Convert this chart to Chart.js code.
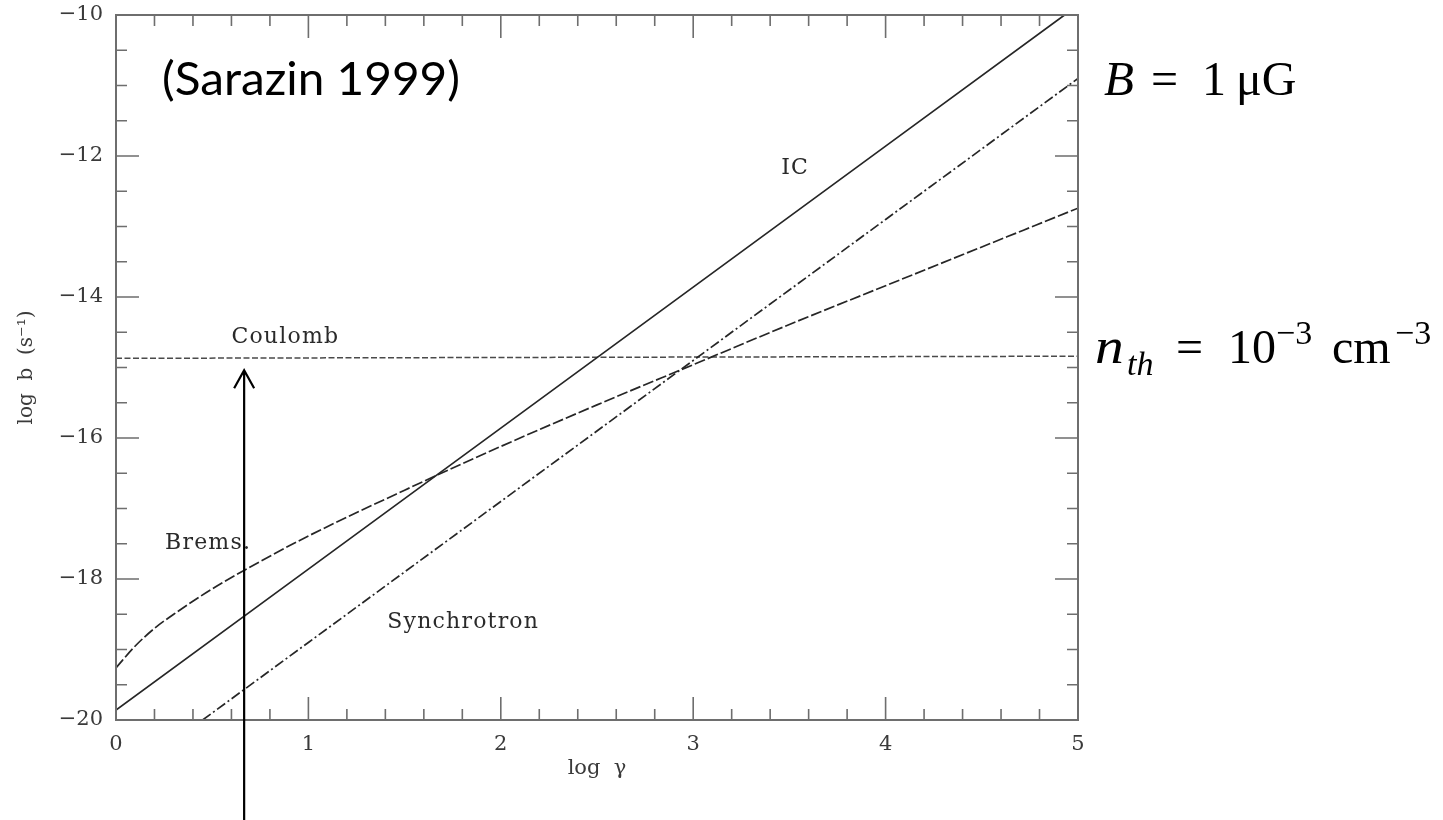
<!DOCTYPE html>
<html>
<head>
<meta charset="utf-8">
<script src="https://cdn.jsdelivr.net/npm/chart.js@4.4.0/dist/chart.umd.min.js"></script>
<style>
    html, body { margin: 0; padding: 0; background: #fff; }
    #wrap { width: 1443px; height: 820px; position: relative; }
</style>
</head>
<body>
<div id="wrap"><canvas id="lossChart"></canvas></div>
<script>
const icX = [0, 1, 2, 3, 4, 4.93];
const icY = [-19.86, -17.86, -15.86, -13.86, -11.86, -10.0];

const syncX = [0.45, 1, 2, 3, 4, 5];
const syncY = [-20.0, -18.9, -16.9, -14.9, -12.9, -10.9];

const bremsX = [0, 0.1, 0.2, 0.3, 0.5, 0.75, 1, 1.5, 2, 2.5, 3, 3.5, 4, 4.5, 5];
const bremsY = [-19.26, -18.95, -18.70, -18.50, -18.14, -17.75, -17.39, -16.74, -16.12, -15.53, -14.96, -14.39, -13.84, -13.29, -12.74];

const coulombX = [0, 1, 2, 3, 4, 5];
const coulombY = [-14.87, -14.864, -14.858, -14.852, -14.846, -14.84];

const xRange = [0, 5];
const yRange = [-20, -10];

// curve labels: [text, log gamma, log b, align]
const curveLabels = [
    ['IC', 3.53, -12.18, 'center'],
    ['Coulomb', 0.88, -14.57, 'center'],
    ['Brems.', 0.255, -17.49, 'left'],
    ['Synchrotron', 1.41, -18.62, 'left']
];
const arrowAt = { x: 0.666, y: -15.04 };

const ink = '#262626';
const frameColor = '#6e6e6e';
const labelFont = 'DejaVu Serif';

function pairs(xs, ys) {
    return xs.map((x, i) => ({ x: x, y: ys[i] }));
}

function minus(v) {
    return String(v).replace('-', '\u2212');
}

const overlay = {
    id: 'overlay',
    afterDraw(chart) {
        const ctx = chart.ctx;
        const a = chart.chartArea;
        const xs = chart.scales.x;
        const ys = chart.scales.y;

        ctx.save();
        // frame
        ctx.strokeStyle = frameColor;
        ctx.lineWidth = 2;
        ctx.strokeRect(a.left, a.top, a.right - a.left, a.bottom - a.top);

        // inward ticks on all four sides
        ctx.lineWidth = 1.6;
        ctx.beginPath();
        for (let i = 1; i < 25; i++) {
            const px = xs.getPixelForValue(i * 0.2);
            const len = (i % 5 === 0) ? 23 : 11;
            ctx.moveTo(px, a.bottom); ctx.lineTo(px, a.bottom - len);
            ctx.moveTo(px, a.top); ctx.lineTo(px, a.top + len);
        }
        for (let i = 1; i < 20; i++) {
            const py = ys.getPixelForValue(-20 + i * 0.5);
            const len = (i % 4 === 0) ? 23 : 11;
            ctx.moveTo(a.left, py); ctx.lineTo(a.left + len, py);
            ctx.moveTo(a.right, py); ctx.lineTo(a.right - len, py);
        }
        ctx.stroke();

        // curve labels
        ctx.fillStyle = '#2a2a2a';
        ctx.font = '22px "' + labelFont + '"';
        ctx.letterSpacing = '1.2px';
        ctx.textBaseline = 'middle';
        curveLabels.forEach(([t, x, y, al]) => {
            ctx.textAlign = al;
            ctx.fillText(t, xs.getPixelForValue(x), ys.getPixelForValue(y));
        });
        ctx.letterSpacing = '0px';

        // arrow pointing at the Coulomb line
        const ax = xs.getPixelForValue(arrowAt.x);
        const ay = ys.getPixelForValue(arrowAt.y);
        ctx.strokeStyle = '#000';
        ctx.lineWidth = 2.2;
        ctx.beginPath();
        ctx.moveTo(ax, chart.height);
        ctx.lineTo(ax, ay);
        ctx.moveTo(ax - 10, ay + 18);
        ctx.lineTo(ax, ay);
        ctx.lineTo(ax + 10, ay + 18);
        ctx.stroke();

        // slide annotations
        ctx.fillStyle = '#000';
        ctx.textAlign = 'left';
        ctx.textBaseline = 'alphabetic';
        ctx.save();
        ctx.font = '46px Lato';
        const w = ctx.measureText('(Sarazin 1999)').width;
        ctx.translate(162, 95);
        ctx.scale(298 / w, 1);
        ctx.fillText('(Sarazin 1999)', 0, 0);
        ctx.restore();

        const serif = '"Liberation Serif"';
        ctx.font = 'italic 49px ' + serif;
        ctx.fillText('B', 1104, 95);
        ctx.font = '48px ' + serif;
        ctx.fillText('=', 1151, 95);
        ctx.fillText('1', 1202, 95);
        ctx.fillText('\u03BCG', 1236, 95);

        ctx.save();
        ctx.font = 'italic 50px ' + serif;
        ctx.translate(1095, 363);
        ctx.scale(1.15, 1);
        ctx.fillText('n', 0, 0);
        ctx.restore();
        ctx.font = 'italic 34px ' + serif;
        ctx.fillText('th', 1127, 375);
        ctx.font = '48px ' + serif;
        ctx.fillText('=', 1176, 363);
        ctx.fillText('10', 1228, 363);
        ctx.fillText('cm', 1332, 363);
        ctx.font = '34px ' + serif;
        ctx.fillText('\u22123', 1276, 344);
        ctx.fillText('\u22123', 1395, 344);
        ctx.restore();
    }
};

const lineStyle = {
    showLine: true,
    pointRadius: 0,
    borderColor: ink,
    borderWidth: 1.7,
    fill: false,
    tension: 0
};

const ctx = document.getElementById('lossChart').getContext('2d');
const lossChart = new Chart(ctx, {
    type: 'scatter',
    data: {
        datasets: [
            Object.assign({ label: 'IC', data: pairs(icX, icY) }, lineStyle),
            Object.assign({ label: 'Synchrotron', data: pairs(syncX, syncY), borderDash: [10, 3, 2, 3] }, lineStyle),
            Object.assign({ label: 'Brems.', data: pairs(bremsX, bremsY), borderDash: [11, 3], cubicInterpolationMode: 'monotone' }, lineStyle, { tension: 0.4 }),
            Object.assign({ label: 'Coulomb', data: pairs(coulombX, coulombY), borderDash: [6, 2.5] }, lineStyle, { borderColor: '#4a4a4a', borderWidth: 1.5 })
        ]
    },
    options: {
        responsive: true,
        maintainAspectRatio: false,
        animation: false,
        layout: { padding: { top: 15, right: 365, left: 0, bottom: 0 } },
        plugins: {
            legend: { display: false },
            tooltip: { enabled: false }
        },
        scales: {
            x: {
                type: 'linear',
                min: xRange[0],
                max: xRange[1],
                grid: { display: false, drawTicks: false },
                border: { display: false },
                ticks: {
                    stepSize: 1,
                    padding: 12,
                    color: '#3a3a3a',
                    font: { family: labelFont, size: 21 }
                },
                title: {
                    display: true,
                    text: 'log  \u03B3',
                    color: '#3a3a3a',
                    font: { family: labelFont, size: 21 },
                    padding: { top: 0, bottom: 39 }
                },
                afterFit: (s) => { s.height = 100; s.paddingLeft = 0; s.paddingRight = 0; }
            },
            y: {
                type: 'linear',
                min: yRange[0],
                max: yRange[1],
                grid: { display: false, drawTicks: false },
                border: { display: false },
                ticks: {
                    stepSize: 2,
                    padding: 13,
                    color: '#3a3a3a',
                    font: { family: labelFont, size: 21 },
                    callback: (v) => minus(v)
                },
                title: {
                    display: true,
                    text: 'log  b  (s\u207B\u00B9)',
                    color: '#3a3a3a',
                    font: { family: labelFont, size: 20 },
                    padding: { top: 15, bottom: 0 }
                },
                afterFit: (s) => { s.width = 116; s.paddingTop = 0; s.paddingBottom = 0; }
            }
        }
    },
    plugins: [overlay]
});
</script>
</body>
</html>
